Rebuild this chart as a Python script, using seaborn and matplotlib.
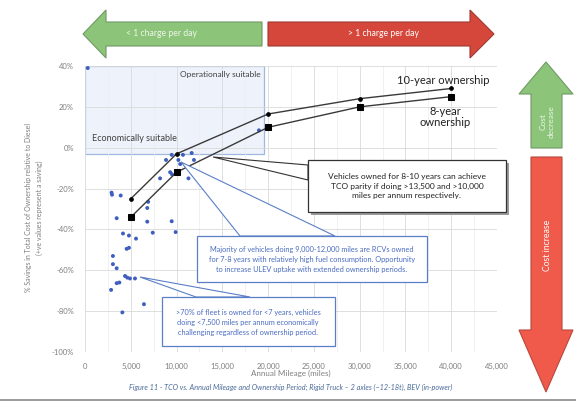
import numpy as np
import pandas as pd
import matplotlib
matplotlib.use("Agg")
import matplotlib.pyplot as plt
import seaborn as sns
from matplotlib.patches import Polygon, Rectangle
from matplotlib.ticker import FuncFormatter, MultipleLocator

# ---------------- data ----------------
line_mileage = [5000, 10000, 20000, 30000, 40000]
tco_10yr = [-25, -3, 16.5, 24, 29]
tco_8yr = [-34, -12, 10, 20, 25]

fleet_mileage = [300, 2900, 2950, 3900, 6900, 6800, 8200, 8850, 9470, 9300, 10200,
                 10400, 10700, 11650, 11300, 9500, 11900, 19000, 3460, 6800, 9470,
                 7400, 9900, 4150, 4800, 5570, 4800, 4550, 3050, 3050, 3460, 4370,
                 4620, 4910, 5460, 3750, 3460, 2850, 6440, 4080]
fleet_tco = [39, -22, -23, -23.4, -26.5, -29.5, -15, -6, -3.5, -12, -6,
             -8, -3.5, -2.6, -15, -13, -6, 8.5, -34.5, -36.2, -36,
             -41.6, -41.3, -42, -43, -44.5, -49, -49.5, -53, -57, -59, -62.8,
             -63.6, -64, -64, -66, -66.3, -69.6, -76.6, -80.6]

x_ticks = [0, 5000, 10000, 15000, 20000, 25000, 30000, 35000, 40000, 45000]
y_ticks = [-100, -80, -60, -40, -20, 0, 20, 40]

W, H = 576, 403

def fx(px):
    return px / W

def fy(py):
    return 1 - py / H

# ---------------- style ----------------
sns.set_theme(style="whitegrid")
plt.rcParams['font.family'] = ['Lato', 'DejaVu Sans']

fig = plt.figure(figsize=(W / 100, H / 100), dpi=100)
ax = fig.add_axes([fx(85), fy(352), (497 - 85) / W, (352 - 66) / H])
ax.set_facecolor("white")

# operationally / economically suitable region
ax.add_patch(Rectangle((0, -3), 19500, 43, facecolor="#eef3fb", edgecolor="#9fb8e0",
                       lw=0.9, zorder=0.5))

ax.set_xlim(0, 45000)
ax.set_ylim(-100, 40)
ax.set_xticks(x_ticks)
ax.set_yticks(y_ticks)
ax.xaxis.set_minor_locator(MultipleLocator(2500))
ax.grid(which="major", color="#d9d9d9", lw=0.6)
ax.grid(which="minor", axis="x", color="#ececec", lw=0.5)
ax.xaxis.set_major_formatter(FuncFormatter(lambda v, p: f"{int(v):,}"))
ax.yaxis.set_major_formatter(FuncFormatter(lambda v, p: f"{int(v)}%"))
ax.tick_params(axis="both", labelsize=5.5, colors="#7f7f7f", length=0, pad=8)
for s in ax.spines.values():
    s.set_visible(False)

# scatter of fleet vehicles
fleet_df = pd.DataFrame({"mileage": fleet_mileage, "tco": fleet_tco})
sns.scatterplot(data=fleet_df, x="mileage", y="tco", ax=ax, color="#3f5fbf",
                s=8, edgecolor="none", zorder=3, legend=False)

# ownership lines
df10 = pd.DataFrame({"mileage": line_mileage, "tco": tco_10yr})
df8 = pd.DataFrame({"mileage": line_mileage, "tco": tco_8yr})
sns.lineplot(data=df10, x="mileage", y="tco", ax=ax, color="#3a3a3a", lw=1.0,
             marker="o", markersize=2.6, markeredgecolor="black",
             markerfacecolor="black", zorder=4)
sns.lineplot(data=df8, x="mileage", y="tco", ax=ax, color="#3a3a3a", lw=1.0,
             marker="s", markersize=3.8, markeredgecolor="black",
             markerfacecolor="black", zorder=4)
ax.set_xlabel("")
ax.set_ylabel("")

ax.text(19200, 36, "Operationally suitable", ha="right", va="center",
        fontsize=6, color="#404040")
ax.text(800, 4.5, "Economically suitable", ha="left", va="center",
        fontsize=6.5, color="#404040")

# line labels
fig.text(fx(443), fy(80), "10-year ownership", ha="center", va="center",
         fontsize=8, color="#222222")
fig.text(fx(445), fy(117), "8-year\nownership", ha="center", va="center",
         fontsize=8, color="#222222", linespacing=1.1)

# ---------------- callouts ----------------
def poly(points, **kw):
    p = Polygon([(fx(a), fy(b)) for a, b in points], closed=True,
                transform=fig.transFigure, **kw)
    fig.add_artist(p)
    return p

def rect(x0, y0, x1, y1, **kw):
    r = Rectangle((fx(x0), fy(y1)), fx(x1) - fx(x0), fy(y0) - fy(y1),
                  transform=fig.transFigure, **kw)
    fig.add_artist(r)
    return r

# black box (with shadow)
poly([(213, 157), (308, 165), (308, 180)], facecolor="white", edgecolor="#333333",
     lw=0.8, zorder=5)
rect(311, 163, 509, 215, facecolor="#9a9a9a", edgecolor="none", zorder=5)
rect(308, 160, 506, 212, facecolor="white", edgecolor="#333333", lw=0.9, zorder=6)
fig.text(fx(407), fy(186),
         "Vehicles owned for 8-10 years can achieve\nTCO parity if doing >13,500 and >10,000\nmiles per annum respectively.",
         ha="center", va="center", fontsize=6, color="#222222", linespacing=1.45, zorder=7)

# blue box 1
poly([(181, 162), (240, 236), (335, 236)], facecolor="white", edgecolor="#5b7fc7",
     lw=0.8, zorder=5)
rect(197, 236, 427, 282, facecolor="white", edgecolor="#5b7fc7", lw=0.9, zorder=6)
fig.text(fx(312), fy(259),
         "Majority of vehicles doing 9,000-12,000 miles are RCVs owned\nfor 7-8 years with relatively high fuel consumption. Opportunity\nto increase ULEV uptake with extended ownership periods.",
         ha="center", va="center", fontsize=5.3, color="#4a6cc0", linespacing=1.5, zorder=7)

# blue box 2
poly([(140, 277), (196, 297), (250, 297)], facecolor="white", edgecolor="#5b7fc7",
     lw=0.8, zorder=5)
rect(162, 297, 335, 346, facecolor="white", edgecolor="#5b7fc7", lw=0.9, zorder=6)
fig.text(fx(248), fy(322),
         ">70% of fleet is owned for <7 years, vehicles\ndoing <7,500 miles per annum economically\nchallenging regardless of ownership period.",
         ha="center", va="center", fontsize=5.3, color="#4a6cc0", linespacing=1.5, zorder=7)

# ---------------- big arrows ----------------
green = "#8cc47a"
poly([(83, 34), (106, 10), (106, 22), (262, 22), (262, 46), (106, 46), (106, 58)],
     facecolor=green, edgecolor="#6f9a63", lw=0.8, zorder=2)
fig.text(fx(162), fy(33), "< 1 charge per day", ha="center", va="center",
         fontsize=6.2, color="#eef6ea")
poly([(268, 22), (470, 22), (470, 10), (494, 34), (470, 58), (470, 46), (268, 46)],
     facecolor="#d6473b", edgecolor="#9e3a32", lw=0.8, zorder=2)
fig.text(fx(383), fy(33), "> 1 charge per day", ha="center", va="center",
         fontsize=6.2, color="white")

poly([(546, 62), (573, 94), (562, 94), (562, 148), (531, 148), (531, 94), (519, 94)],
     facecolor=green, edgecolor="#6f9a63", lw=0.8, zorder=2)
fig.text(fx(547), fy(122), "Cost\ndecrease", ha="center", va="center", rotation=90,
         fontsize=6, color="#eef6ea", linespacing=1.1)
poly([(531, 157), (562, 157), (562, 330), (573, 330), (546, 392), (519, 330), (531, 330)],
     facecolor="#f05a4a", edgecolor="#b8473c", lw=0.8, zorder=2)
fig.text(fx(547), fy(245), "Cost increase", ha="center", va="center", rotation=90,
         fontsize=6.2, color="white")

# ---------------- axis titles / caption ----------------
fig.text(fx(34), fy(208),
         "% Savings in Total Cost of Ownership relative to Diesel\n(+ve values represent a saving)",
         ha="center", va="center", rotation=90, fontsize=5, color="#7f7f7f",
         linespacing=1.5)
fig.text(fx(291), fy(373), "Annual Mileage (miles)", ha="center", va="center",
         fontsize=5.8, color="#7f7f7f")
fig.text(fx(291), fy(387),
         "Figure 11 - TCO vs. Annual Mileage and Ownership Period; Rigid Truck \u2013 2 axles (~12-18t), BEV (in-power)",
         ha="center", va="center", fontsize=5.2, color="#4a6a9a", style="italic")

fig.add_artist(plt.Line2D([0, 1], [fy(400), fy(400)], transform=fig.transFigure,
                          color="#8a8a8a", lw=1.2))

fig.savefig("out.png", dpi=100, facecolor="white")
